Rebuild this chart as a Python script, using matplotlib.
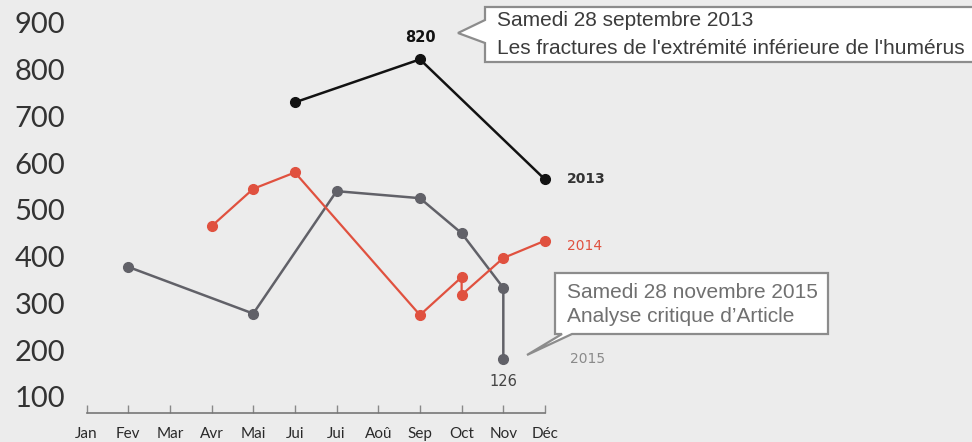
import matplotlib
matplotlib.use('Agg')
import matplotlib.pyplot as plt
from matplotlib.patches import Polygon

# données
months = ['Jan', 'Fev', 'Mar', 'Avr', 'Mai', 'Jui', 'Jui', 'Aoû', 'Sep', 'Oct', 'Nov', 'Déc']
yticks = [100, 200, 300, 400, 500, 600, 700, 800, 900]

x_2013 = [6, 9, 12]
y_2013 = [730, 822, 565]

x_2014 = [4, 5, 6, 9, 10, 10, 11, 12]
y_2014 = [465, 545, 580, 275, 356, 318, 397, 434]

x_2015 = [2, 5, 7, 9, 10, 11, 11]
y_2015 = [378, 278, 540, 525, 450, 333, 180]

c2013 = '#121212'
c2014 = '#e0513f'
c2015 = '#616168'
bg = '#ececec'

W, H = 972, 442


def px(x, y):
    # pixel (haut-gauche) -> fraction de figure
    return (x / W, 1 - y / H)


def callout(fig, pts, lines, x0, y0, dy, color, size=15):
    poly = Polygon([px(*p) for p in pts], closed=True, transform=fig.transFigure,
                   facecolor='white', edgecolor='#8c8c8c', lw=1.6, zorder=5)
    fig.patches.append(poly)
    for i, t in enumerate(lines):
        fig.text(*px(x0, y0 + i * dy), t, color=color, fontsize=size,
                 family='Liberation Sans', va='center', ha='left', zorder=6)


fig = plt.figure(figsize=(9.72, 4.42), dpi=100, facecolor=bg)
ax = fig.add_axes([86.5 / W, (H - 412.7) / H, (545 - 86.5) / W, 412.7 / H])
ax.set_facecolor(bg)

ax.plot(x_2015, y_2015, color=c2015, lw=1.8, marker='o', ms=7, clip_on=False, zorder=3)
ax.plot(x_2014, y_2014, color=c2014, lw=1.6, marker='o', ms=7, clip_on=False, zorder=3)
ax.plot(x_2013, y_2013, color=c2013, lw=1.8, marker='o', ms=7, clip_on=False, zorder=4)

ax.set_xlim(1, 12)
ax.set_ylim(66, 949)

for s in ['top', 'right', 'left']:
    ax.spines[s].set_visible(False)
ax.spines['bottom'].set_color('#777777')
ax.spines['bottom'].set_linewidth(1.2)

ax.set_xticks(range(1, 13))
ax.set_xticklabels(months, fontsize=11, family='Lato', color='#2a2a2a')
ax.tick_params(axis='x', direction='in', length=6, width=1, color='#888888', pad=10)
ax.set_yticks(yticks)
ax.set_yticklabels([str(v) for v in yticks], fontsize=21, family='Lato', color='#333333')
ax.tick_params(axis='y', length=0, pad=15.5)

# étiquettes des séries
ax.annotate('2013', (x_2013[-1], y_2013[-1]), xytext=(22, 0), textcoords='offset pixels',
            va='center', fontsize=10, color='#333333', fontweight='bold', annotation_clip=False)
ax.annotate('2014', (x_2014[-1], y_2014[-1]), xytext=(22, -5), textcoords='offset pixels',
            va='center', fontsize=10, color=c2014, annotation_clip=False)
ax.annotate('2015', (x_2015[-1], y_2015[-1]), xytext=(67, 0), textcoords='offset pixels',
            va='center', fontsize=10, color='#8a8a8a', annotation_clip=False)
ax.annotate('820', (x_2013[1], y_2013[1]), xytext=(0, 22), textcoords='offset pixels',
            ha='center', va='center', fontsize=10.5, fontweight='bold', color=c2013)
ax.annotate('126', (x_2015[-1], y_2015[-1]), xytext=(0, -22), textcoords='offset pixels',
            ha='center', va='center', fontsize=10.5, color='#444444', annotation_clip=False)

# bulles
callout(fig, [(485, 7), (980, 7), (980, 62), (485, 62), (485, 43), (458, 33), (485, 20)],
        ['Samedi 28 septembre 2013', "Les fractures de l'extrémité inférieure de l'humérus"],
        497, 21, 27, '#3c3c3c')
callout(fig, [(555, 273), (828, 273), (828, 334), (572, 334), (527, 355), (562, 334), (555, 334)],
        ['Samedi 28 novembre 2015', 'Analyse critique d\u2019Article'],
        567, 292, 25, '#707070')

fig.savefig('out.png', dpi=100, facecolor=bg)
